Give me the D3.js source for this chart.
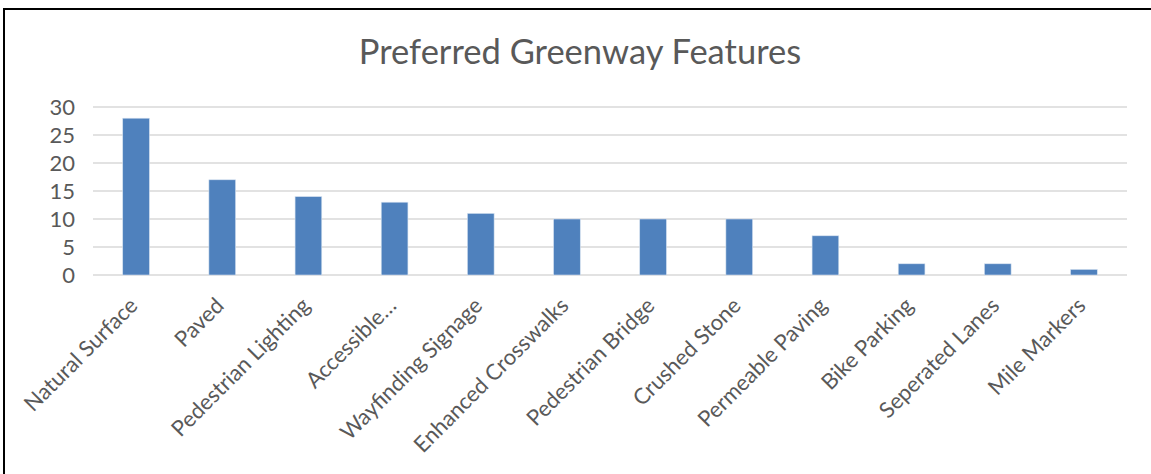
<!DOCTYPE html>
<html lang="en">
<head>
  <meta charset="UTF-8">
  <title>Preferred Greenway Features</title>
  <style>
    body {
      margin: 0;
      background: #fff;
      font-family: Lato, "Open Sans", sans-serif;
    }
    svg { display: block; }
    .grid line { stroke: #d9d9d9; stroke-width: 1.5; }
    .tick text { fill: #595959; font-family: Lato, "Open Sans", sans-serif; }
  </style>
</head>
<body>

<script src="https://d3js.org/d3.v7.min.js"></script>
<script>
  // Chart data
  const categories = [
    'Natural Surface', 'Paved', 'Pedestrian Lighting', 'Accessible…',
    'Wayfinding Signage', 'Enhanced Crosswalks', 'Pedestrian Bridge',
    'Crushed Stone', 'Permeable Paving', 'Bike Parking',
    'Seperated Lanes', 'Mile Markers'
  ];
  const counts = [28, 17, 14, 13, 11, 10, 10, 10, 7, 2, 2, 1];
  const yTicks = [0, 5, 10, 15, 20, 25, 30];

  const width = 1151;
  const height = 474;
  const margin = { left: 93, right: 24, top: 107, bottom: 199 };

  const svg = d3.select('body')
    .append('svg')
    .attr('width', width)
    .attr('height', height);

  // Frame (only left and top edges show in the crop)
  svg.append('rect')
    .attr('x', 4)
    .attr('y', 9)
    .attr('width', width + 10)
    .attr('height', height + 10)
    .attr('fill', '#fff')
    .attr('stroke', '#000')
    .attr('stroke-width', 2);

  svg.append('text')
    .attr('x', 580)
    .attr('y', 64)
    .attr('text-anchor', 'middle')
    .attr('fill', '#595959')
    .style('font-size', '34.5px')
    .text('Preferred Greenway Features');

  const x = d3.scaleBand()
    .domain(categories)
    .range([margin.left, width - margin.right])
    .paddingInner(0.69)
    .paddingOuter(0.345);

  const y = d3.scaleLinear()
    .domain([0, 30])
    .range([height - margin.bottom, margin.top]);

  // Gridlines
  svg.append('g')
    .attr('class', 'grid')
    .selectAll('line')
    .data(yTicks)
    .enter()
    .append('line')
    .attr('x1', margin.left)
    .attr('x2', width - margin.right)
    .attr('y1', d => y(d))
    .attr('y2', d => y(d));

  // Y axis
  const yAxis = svg.append('g')
    .attr('transform', 'translate(' + (margin.left - 18) + ',0)')
    .call(d3.axisLeft(y).tickValues(yTicks).tickSize(0).tickPadding(0));
  yAxis.select('.domain').remove();
  yAxis.selectAll('text').style('font-size', '22px').attr('dy', '0.35em');

  // Bars
  svg.selectAll('rect.bar')
    .data(counts)
    .enter()
    .append('rect')
    .attr('class', 'bar')
    .attr('x', (d, i) => x(categories[i]))
    .attr('y', d => y(d))
    .attr('width', x.bandwidth())
    .attr('height', d => y(0) - y(d))
    .attr('fill', '#4f81bd')
    .attr('stroke', '#d6e2f0')
    .attr('stroke-width', 0.6);

  // X axis with rotated labels
  const xAxis = svg.append('g')
    .attr('transform', 'translate(0,' + y(0) + ')')
    .call(d3.axisBottom(x).tickSize(0).tickPadding(0));
  xAxis.select('.domain').remove();
  xAxis.selectAll('text')
    .style('font-size', '22px')
    .attr('text-anchor', 'end')
    .attr('dy', null)
    .attr('transform', 'translate(3,32) rotate(-45)');
</script>

</body>
</html>
